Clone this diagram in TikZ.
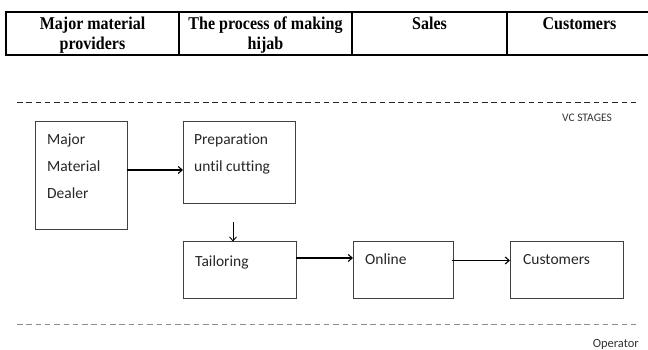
\documentclass[tikz,border=0pt]{standalone}
\usepackage{fontspec}
\newfontfamily\headfont[FakeStretch=0.89]{Liberation Serif}
\newfontfamily\boxfont[Ligatures=NoCommon]{Carlito}
\usetikzlibrary{arrows.meta,positioning}

\begin{document}
\begin{tikzpicture}[
    x=1pt, y=1pt,
    cell/.style={draw, line width=1.2pt, minimum height=43pt, inner sep=0pt,
        outer sep=0pt, anchor=south west},
    head/.style={font=\headfont\bfseries\fontsize{18}{20}\selectfont,
        align=center, inner sep=0pt, anchor=base},
    box/.style={draw=black!75, line width=0.9pt, inner sep=0pt, outer sep=0pt,
        anchor=north west},
    boxtext/.style={font=\boxfont\fontsize{15.5}{27}\selectfont, text=black!85,
        align=left, inner sep=0pt, anchor=base west},
    note/.style={font=\boxfont\fontsize{#1}{#1}\selectfont, text=black!80,
        inner sep=0pt, anchor=base east},
    arr/.style={-{Straight Barb[length=4pt,width=7pt]}, line width=1.1pt},
    stage/.style={dash pattern=on 5.5pt off 3.8pt, line width=0.9pt},
 ]
    \useasboundingbox (0,0) rectangle (648,350);

    % header row
    \node[cell, minimum width=173pt] at (6,295) (H1) {};
    \node[cell, minimum width=173pt, right=0pt of H1] (H2) {};
    \node[cell, minimum width=155pt, right=0pt of H2] (H3) {};
    \node[cell, minimum width=145pt, right=0pt of H3] (H4) {};
    \node[head] at (H1.center |- 0,300) (L1) {Major material\\providers};
    \node[head] at (H2.center |- 0,300) (L2) {The process of making\\hijab};
    \node[head] at (H3.center |- 0,320) (L3) {Sales};
    \node[head] at (H4.center |- 0,320) (L4) {Customers};

    % stages
    \draw[stage, black!85] (17,248) -- (640,248);
    \node[note=11.5] at (612,228) (VC) {VC STAGES};

    \node[box, minimum width=92pt, minimum height=108pt] at (35,229) (B1) {};
    \node[box, minimum width=112pt, minimum height=82pt] at (183,229) (B2) {};
    \node[box, minimum width=113pt, minimum height=57pt] at (183,108.5) (B3) {};
    \node[box, minimum width=100pt, minimum height=57pt, right=57pt of B3] (B4) {};
    \node[box, minimum width=113pt, minimum height=57pt, right=57pt of B4] (B5) {};

    \node[boxtext] at ([shift={(12,-78)}]B1.north west) (T1) {Major\\Material\\Dealer};
    \node[boxtext] at ([shift={(11,-51)}]B2.north west) (T2) {Preparation\\until cutting};
    \node[boxtext] at ([shift={(12,-25.5)}]B3.north west) (T3) {Tailoring};
    \node[boxtext] at ([shift={(12,-23.5)}]B4.north west) (T4) {Online};
    \node[boxtext] at ([shift={(13,-23.5)}]B5.north west) (T5) {Customers};

    \draw[arr] ([yshift=5pt]B1.east) -- ([yshift=5pt]B1.east -| B2.west);
    \draw[arr, line width=0.9pt] ([xshift=-6pt,yshift=-19pt]B2.south) -- ([xshift=-6.5pt]B3.north);
    \draw[arr] ([yshift=12pt]B3.east) -- ([yshift=12pt]B3.east -| B4.west);
    \draw[arr] ([xshift=-1pt,yshift=9.5pt]B4.east) -- ([yshift=9.5pt]B4.east -| B5.west);

    % operator
    \draw[stage, black!45] (17,26) -- (640,26);
    \node[note=12.5] at (639,2) (OP) {Operator};
\end{tikzpicture}
\end{document}
